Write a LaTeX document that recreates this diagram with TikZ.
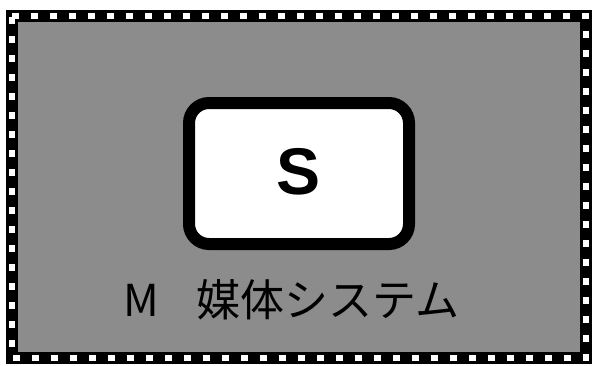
\documentclass[tikz,border=0pt]{standalone}
\usepackage{fontspec}
\newfontfamily\cjk{Noto Sans CJK JP}
\newfontfamily\sbold{Liberation Sans}
\tikzset{
  frameband/.style={line width=12pt, draw=black},
  framedots/.style={line width=6pt, draw=white, dash pattern=on 7pt off 12pt},
  sbox/.style={draw=black, line width=12pt, fill=white, rounded corners=20pt},
}
\begin{document}
\begin{tikzpicture}[x=1pt,y=-1pt]
\useasboundingbox (0,0) rectangle (593,365);
\fill[white] (0,0) rectangle (593,365);
\fill[black!45] (12,16) rectangle (586,358);
\draw[frameband] (12,16) rectangle (586,358);
\draw[framedots] (12,16) -- (586,16) -- (586,358) -- (12,358) -- cycle;
\draw[sbox] (189,103) rectangle (409,244);
\node (s) at (299,172) {\sbold\fontsize{66}{66}\selectfont\bfseries S};
\node[anchor=west] (m) at (120,300) {\cjk\fontsize{44}{44}\selectfont M\hspace{0.85em}媒体システム};
\end{tikzpicture}
\end{document}
